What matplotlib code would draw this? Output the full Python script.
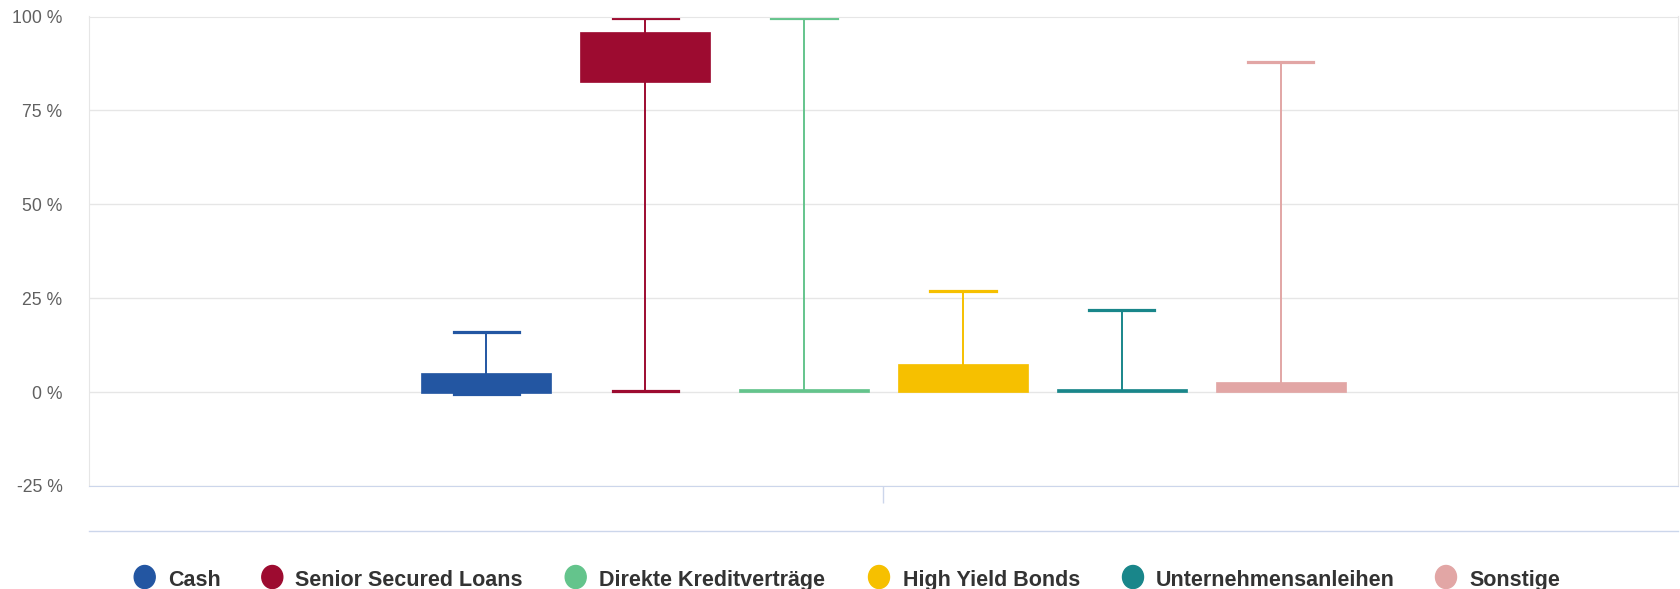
import matplotlib
matplotlib.use("Agg")
import matplotlib.pyplot as plt
from matplotlib.lines import Line2D
from matplotlib.patches import Ellipse

# box statistics per asset class (in %)
series = ["Cash", "Senior Secured Loans", "Direkte Kreditverträge",
          "High Yield Bonds", "Unternehmensanleihen", "Sonstige"]
colors = ["#2356a2", "#9d0b30", "#64c48c", "#f6c000", "#19868a", "#e2a6a5"]
low = [-0.6, 0.2, 0.0, 0.0, 0.0, 0.0]
q1 = [-0.2, 82.5, 0.0, 0.0, 0.0, 0.0]
median = [2.4, 89.0, 0.4, 3.7, 0.4, 1.3]
q3 = [5.0, 95.8, 0.8, 7.4, 0.8, 2.6]
high = [16.0, 99.6, 99.6, 27.0, 21.8, 88.0]
yticks = [-25, 0, 25, 50, 75, 100]
ytick_labels = ["-25 %", "0 %", "25 %", "50 %", "75 %", "100 %"]

W, H = 1681, 589
fig = plt.figure(figsize=(W / 100, H / 100), dpi=100)
ax = fig.add_axes([89 / W, 103 / H, 1589 / W, 469.5 / H])

ax.set_xlim(-0.5, 0.5)
ax.set_ylim(-25, 100)
ax.set_yticks(yticks)
ax.set_yticklabels(ytick_labels, fontsize=12.7, color="#606060",
                   family="Liberation Sans")
ax.tick_params(axis="y", length=0, pad=19)
ax.set_xticks([0])
ax.set_xticklabels([""])
ax.tick_params(axis="x", length=12, width=1, color="#ccd6eb")
ax.grid(axis="y", color="#e6e6e6", linewidth=1)
ax.set_axisbelow(True)
for side in ["left", "right", "top"]:
    ax.spines[side].set_color("#e6e6e6")
ax.spines["bottom"].set_color("#ccd6eb")

n = len(series)
for i in range(n):
    pos = (i - (n - 1) / 2) * 0.1
    stats = [{"whislo": low[i], "q1": q1[i], "med": median[i],
              "q3": q3[i], "whishi": high[i], "fliers": []}]
    c = colors[i]
    parts = ax.bxp(stats, positions=[pos], widths=0.082, capwidths=0.041,
                   patch_artist=True, manage_ticks=False,
                   boxprops=dict(facecolor=c, edgecolor=c, linewidth=0.5),
                   medianprops=dict(color=c, linewidth=0),
                   whiskerprops=dict(color=c, linewidth=1.4),
                   capprops=dict(color=c, linewidth=2.3))
    # no lower cap when the whisker has zero length
    if low[i] >= q1[i]:
        parts["caps"][0].set_visible(False)
        parts["whiskers"][0].set_visible(False)

# second axis line below the plot
fig.add_artist(Line2D([89 / W, 1678 / W], [1 - 531 / H, 1 - 531 / H],
                      color="#ccd6eb", linewidth=1, transform=fig.transFigure))

# legend
marker_x = [144.7, 272.3, 575.7, 879, 1133, 1446]
text_x = [168.3, 294.8, 599.2, 902.6, 1155.6, 1469.7]
for name, c, mx, tx in zip(series, colors, marker_x, text_x):
    fig.add_artist(Ellipse((mx / W, 12 / H), 21 / W, 23 / H,
                           color=c, transform=fig.transFigure))
    fig.text(tx / W, 3 / H, name, fontsize=15.5, fontweight="bold",
             color="#333333", family="Liberation Sans", va="baseline")

fig.savefig("out.png", dpi=100)
